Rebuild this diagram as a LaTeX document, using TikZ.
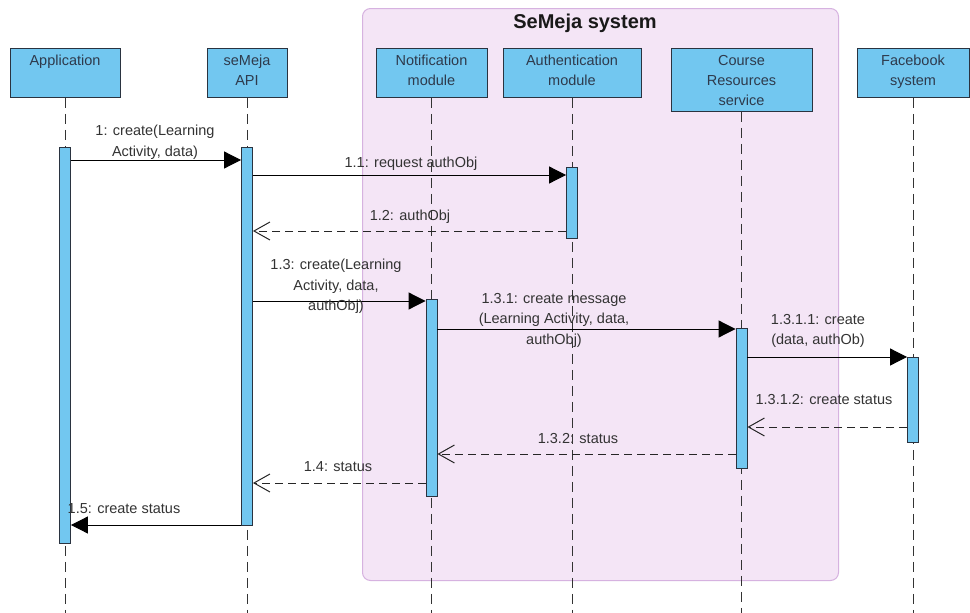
\documentclass[tikz,border=0pt]{standalone}
\usepackage{fontspec}
\setmainfont{Liberation Sans}
\usetikzlibrary{arrows.meta}
\definecolor{boxblue}{HTML}{72C7F0}
\definecolor{boxline}{HTML}{2A3340}
\definecolor{grpfill}{HTML}{F4E5F6}
\definecolor{grpline}{HTML}{D6B2E0}
\definecolor{hdrtext}{HTML}{2E3A4C}
\definecolor{lbltext}{HTML}{333333}
\begin{document}
\begin{tikzpicture}[x=1pt,y=-1pt,
  hdr/.style={draw=boxline, fill=boxblue, line width=0.9pt, anchor=north, inner sep=0pt},
  hdrtxt/.style={anchor=north, align=center, font=\fontsize{14.5}{20}\selectfont, text=hdrtext, inner sep=0pt},
  bar/.style={draw=boxline, fill=boxblue, line width=0.9pt, minimum width=11pt, inner sep=0pt},
  life/.style={draw=black!80, line width=1pt, dash pattern=on 10pt off 6pt},
  msg/.style={draw=black, line width=1pt, -{Triangle[length=17pt,width=17pt]}},
  ret/.style={draw=black!85, line width=1pt, dash pattern=on 8pt off 5pt, -{Straight Barb[length=16pt,width=18pt,line width=1pt]}},
  lbl/.style={anchor=north, align=center, font=\fontsize{14.5}{20.5}\selectfont, text=lbltext, inner sep=0pt}
]
\fill[white] (0,0) rectangle (970,613);
\useasboundingbox (0,0) rectangle (970,613);

% group frame
\node[draw=grpline, fill=grpfill, line width=1pt, rounded corners=8pt, minimum width=476pt, minimum height=572pt, anchor=north west, inner sep=0pt] (grp) at (362,8) {};
\node[font=\bfseries\fontsize{20}{24}\selectfont, text=black!90, anchor=north, inner sep=0pt] (title) at (585,14) {SeMeja system};

\coordinate (bot) at (0,613);

% header boxes
\node[hdr, minimum width=110pt, minimum height=49pt] (app) at (65,48) {};
\node[hdr, minimum width=80pt, minimum height=49pt] (api) at (247,48) {};
\node[hdr, minimum width=111pt, minimum height=49pt] (notif) at (431.5,48) {};
\node[hdr, minimum width=138pt, minimum height=49pt] (auth) at (572,48) {};
\node[hdr, minimum width=141pt, minimum height=63pt] (course) at (741.5,48) {};
\node[hdr, minimum width=112pt, minimum height=49pt] (fb) at (913,48) {};

\node[hdrtxt] (appt) at ([yshift=-7pt]app.north) {Application};
\node[hdrtxt] (apit) at ([yshift=-7pt]api.north) {seMeja\\API};
\node[hdrtxt] (notift) at ([yshift=-7pt]notif.north) {Notification\\module};
\node[hdrtxt] (autht) at ([yshift=-7pt]auth.north) {Authentication\\module};
\node[hdrtxt] (courset) at ([yshift=-7pt]course.north) {Course\\Resources\\service};
\node[hdrtxt] (fbt) at ([yshift=-7pt]fb.north) {Facebook\\system};

% lifelines
\draw[life] (app.south) -- (app.south |- bot);
\draw[life] (api.south) -- (api.south |- bot);
\draw[life] (notif.south) -- (notif.south |- bot);
\draw[life] (auth.south) -- (auth.south |- bot);
\draw[life] (course.south) -- (course.south |- bot);
\draw[life] (fb.south) -- (fb.south |- bot);

% activation bars
\node[bar, minimum height=396pt] (appbar) at (65,345) {};
\node[bar, minimum height=378pt] (apibar) at (247,336) {};
\node[bar, minimum height=71pt] (authbar) at (572,202.5) {};
\node[bar, minimum height=197pt] (notifbar) at (431.5,397.5) {};
\node[bar, minimum height=140pt] (coursebar) at (741.5,398) {};
\node[bar, minimum height=85pt] (fbbar) at (913,399.5) {};

% message levels
\coordinate (y1) at (0,160);
\coordinate (y11) at (0,175);
\coordinate (y12) at (0,231);
\coordinate (y13) at (0,301);
\coordinate (y131) at (0,329);
\coordinate (y1311) at (0,357);
\coordinate (y1312) at (0,427);
\coordinate (y132) at (0,454);
\coordinate (y14) at (0,483);
\coordinate (y15) at (0,525);

% messages
\draw[msg] (appbar.east |- y1) -- (apibar.west |- y1);
\draw[msg] (apibar.east |- y11) -- (authbar.west |- y11);
\draw[ret] (authbar.west |- y12) -- (apibar.east |- y12);
\draw[msg] (apibar.east |- y13) -- (notifbar.west |- y13);
\draw[msg] (notifbar.east |- y131) -- (coursebar.west |- y131);
\draw[msg] (coursebar.east |- y1311) -- (fbbar.west |- y1311);
\draw[ret] (fbbar.west |- y1312) -- (coursebar.east |- y1312);
\draw[ret] (coursebar.west |- y132) -- (notifbar.east |- y132);
\draw[ret] (notifbar.west |- y14) -- (apibar.east |- y14);
\draw[msg] (apibar.west |- y15) -- (appbar.east |- y15);

% labels
\node[lbl] (l1) at (155,125) {1: create(Learning\\Activity, data)};
\node[lbl] (l11) at (411,157) {1.1: request authObj};
\node[lbl] (l12) at (410,210) {1.2: authObj};
\node[lbl] (l13) at (336,259) {1.3: create(Learning\\Activity, data,\\authObj)};
\node[lbl] (l131) at (554,293) {1.3.1: create message\\(Learning Activity, data,\\authObj)};
\node[lbl] (l1311) at (818,314) {1.3.1.1: create\\(data, authOb)};
\node[lbl] (l1312) at (824,394) {1.3.1.2: create status};
\node[lbl] (l132) at (578,433) {1.3.2: status};
\node[lbl] (l14) at (338,461) {1.4: status};
\node[lbl] (l15) at (124,503) {1.5: create status};
\end{tikzpicture}
\end{document}
